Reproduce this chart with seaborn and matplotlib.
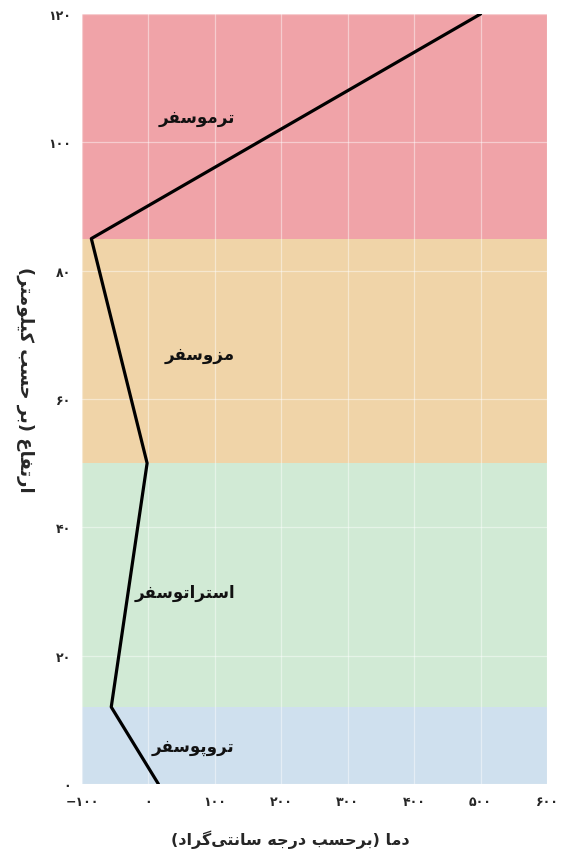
import numpy as np
import pandas as pd
import matplotlib
matplotlib.use('Agg')
import matplotlib.pyplot as plt
import seaborn as sns

# atmosphere layers (km)
layer_names = ['تروپوسفر', 'استراتوسفر', 'مزوسفر', 'ترموسفر']
layer_bottoms = [0, 12, 50, 85]
layer_tops = [12, 50, 85, 120]
layer_colors = ['#cfe0ee', '#d1ead5', '#f0d4a8', '#f0a3a8']
label_alt = [6, 30, 67, 104]
label_temp = 130

# temperature profile
profile_temp = [15, -56, -2, -86, 500]
profile_alt = [0, 12, 50, 85, 120]

x_ticks = [-100, 0, 100, 200, 300, 400, 500, 600]
y_ticks = [0, 20, 40, 60, 80, 100, 120]

x_title = 'دما (برحسب درجه سانتی‌گراد)'
y_title = 'ارتفاع (بر حسب کیلومتر)'

# --- minimal persian shaping (matplotlib has no RTL support) ---
# iso, fin, ini, med ; None -> letter does not join forward
FORMS = {
    'ا': ('\uFE8D', '\uFE8E', None, None),
    'ب': ('\uFE8F', '\uFE90', '\uFE91', '\uFE92'),
    'ت': ('\uFE95', '\uFE96', '\uFE97', '\uFE98'),
    'ج': ('\uFE9D', '\uFE9E', '\uFE9F', '\uFEA0'),
    'ح': ('\uFEA1', '\uFEA2', '\uFEA3', '\uFEA4'),
    'د': ('\uFEA9', '\uFEAA', None, None),
    'ر': ('\uFEAD', '\uFEAE', None, None),
    'ز': ('\uFEAF', '\uFEB0', None, None),
    'س': ('\uFEB1', '\uFEB2', '\uFEB3', '\uFEB4'),
    'ع': ('\uFEC9', '\uFECA', '\uFECB', '\uFECC'),
    'ف': ('\uFED1', '\uFED2', '\uFED3', '\uFED4'),
    'ل': ('\uFEDD', '\uFEDE', '\uFEDF', '\uFEE0'),
    'م': ('\uFEE1', '\uFEE2', '\uFEE3', '\uFEE4'),
    'ن': ('\uFEE5', '\uFEE6', '\uFEE7', '\uFEE8'),
    'ه': ('\uFEE9', '\uFEEA', '\uFEEB', '\uFEEC'),
    'و': ('\uFEED', '\uFEEE', None, None),
    'پ': ('\uFB56', '\uFB57', '\uFB58', '\uFB59'),
    'ک': ('\uFB8E', '\uFB8F', '\uFB90', '\uFB91'),
    'گ': ('\uFB92', '\uFB93', '\uFB94', '\uFB95'),
    'ی': ('\uFBFC', '\uFBFD', '\uFBFE', '\uFBFF'),
}
MIRROR = {'(': ')', ')': '('}


def fa(text):
    out = []
    for i, ch in enumerate(text):
        if ch not in FORMS:
            if ch != '\u200c':
                out.append(MIRROR.get(ch, ch))
            continue
        prev = text[i - 1] if i > 0 else ''
        nxt = text[i + 1] if i + 1 < len(text) else ''
        join_prev = prev in FORMS and FORMS[prev][2] is not None
        join_next = FORMS[ch][2] is not None and nxt in FORMS
        iso, fin, ini, med = FORMS[ch]
        if join_prev and join_next:
            out.append(med)
        elif join_prev:
            out.append(fin)
        elif join_next:
            out.append(ini)
        else:
            out.append(iso)
    return ''.join(reversed(out))


FA_DIGITS = str.maketrans('0123456789-', '۰۱۲۳۴۵۶۷۸۹−')

sns.set_style('white')
plt.rcParams['font.family'] = ['DejaVu Sans']

fig, ax = plt.subplots(figsize=(5.68, 8.62), dpi=100)
fig.subplots_adjust(left=0.1444, right=0.963, bottom=0.0893, top=0.9826)

for name, lo, hi, col, ya in zip(layer_names, layer_bottoms, layer_tops, layer_colors, label_alt):
    ax.axhspan(lo, hi, color=col, lw=0, zorder=0)
    ax.text(label_temp, ya, fa(name), ha='right', va='center',
            fontsize=12, fontweight='bold', color='#111111', zorder=3)

df = pd.DataFrame({'temp': profile_temp, 'alt': profile_alt})
sns.lineplot(data=df, x='temp', y='alt', sort=False, color='black', lw=2.3, ax=ax, zorder=4)

ax.set_xlim(-100, 600)
ax.set_ylim(0, 120)
ax.set_xticks(x_ticks)
ax.set_yticks(y_ticks)
ax.set_xticklabels([str(v).translate(FA_DIGITS) for v in x_ticks], fontsize=9, fontweight='bold')
ax.set_yticklabels([str(v).translate(FA_DIGITS) for v in y_ticks], fontsize=9, fontweight='bold')
ax.tick_params(length=0, pad=8)
ax.grid(True, color='white', alpha=0.45, lw=0.9, zorder=1)
ax.set_axisbelow(False)
for s in ax.spines.values():
    s.set_visible(False)

ax.set_xlabel(fa(x_title), fontsize=11.5, fontweight='bold', va='center')
ax.xaxis.set_label_coords(0.447, -0.0714)
ax.set_ylabel(fa(y_title), fontsize=13, fontweight='bold', rotation=-90, va='center')
ax.yaxis.set_label_coords(-0.1226, 0.526)

fig.savefig('out.png', dpi=100)
